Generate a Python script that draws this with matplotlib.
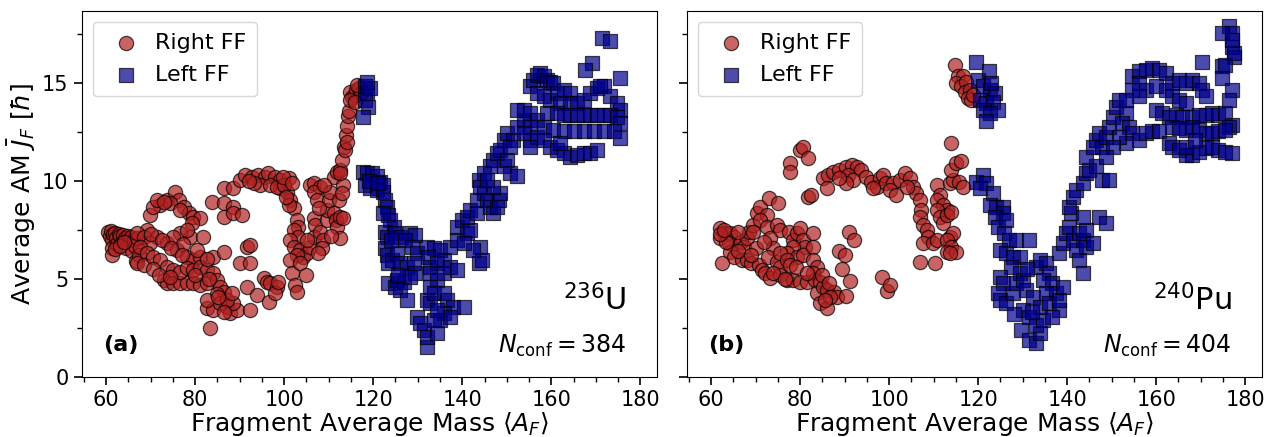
"""Average angular momentum of the fission fragments versus fragment mass."""
import matplotlib.pyplot as plt
import numpy as np
from matplotlib.ticker import MultipleLocator

# (A_F, J_F) pairs
u236_right = [
    (60.5, 7.4), (60.8, 7.2), (61.0, 7.45), (61.3, 7.0), (61.5, 7.3), (61.2, 6.6), (61.4, 6.2),
    (62.0, 7.35), (62.3, 7.1), (62.5, 6.8), (62.8, 7.3), (63.2, 7.2), (63.5, 6.9), (63.8, 7.25),
    (64.2, 7.1), (64.5, 6.6), (64.8, 7.2), (65.2, 7.0), (65.5, 7.15), (65.8, 6.4), (66.2, 7.0),
    (66.5, 6.7), (67.0, 7.1), (66.8, 5.9), (67.3, 6.2), (62.0, 6.5), (63.0, 6.7), (64.0, 6.9),
    (69.9, 8.27), (72.1, 8.78), (73.6, 9.03), (75.5, 9.46), (76.3, 9.03), (77.4, 8.69), (78.5, 8.35),
    (79.6, 8.18), (81.1, 8.1), (79.3, 7.84), (74.4, 8.86), (76.6, 8.52), (70.6, 8.69), (71.4, 9.03),
    (72.9, 8.95), (69.1, 7.5), (71.4, 7.16), (73.6, 6.82), (75.9, 6.48), (78.1, 6.13), (79.6, 5.96),
    (81.1, 6.13), (80.4, 6.48), (78.9, 7.16), (76.6, 7.33), (75.1, 7.16), (78.1, 7.5), (81.8, 7.16),
    (66.9, 7.33), (68.4, 7.16), (69.9, 6.82), (67.6, 6.65), (69.1, 6.3), (66.9, 5.79), (68.4, 5.71),
    (70.6, 6.13), (72.1, 5.96), (73.6, 5.62), (75.1, 5.45), (72.9, 4.94), (73.6, 4.77), (75.1, 4.77),
    (76.6, 4.77), (78.1, 4.77), (79.6, 4.77), (81.1, 4.69), (82.6, 4.77), (76.6, 5.37), (78.1, 5.54),
    (79.6, 5.45), (81.1, 5.62), (82.6, 5.45), (84.1, 5.28), (84.9, 4.94), (85.6, 4.6), (86.4, 4.35),
    (84.1, 6.13), (82.6, 6.0), (70.5, 5.5), (71.8, 5.2), (74.3, 5.1), (77.3, 6.8),
    (70.0, 7.3), (72.5, 7.0), (74.5, 6.6), (77.0, 6.2), (80.0, 5.2), (83.0, 5.0), (85.0, 4.2),
    (82.6, 3.49), (84.1, 3.41), (85.6, 3.75), (87.1, 3.58), (87.9, 3.24), (89.4, 3.41), (88.6, 3.75),
    (87.1, 3.92), (92.4, 3.41), (83.4, 2.47), (82.6, 3.92), (85.2, 4.09), (88.2, 4.26), (86.5, 3.3),
    (83.7, 8.95), (86.4, 9.63), (86.4, 8.86), (88.6, 8.69), (86.4, 8.18), (88.6, 8.35), (90.5, 8.27),
    (86.4, 6.39), (90.1, 5.79), (92.4, 5.79), (91.6, 6.65), (92.4, 6.73), (91.6, 4.6), (93.9, 4.18),
    (96.5, 3.83), (95.4, 5.03), (96.1, 4.86), (96.9, 4.77), (98.4, 4.6), (98.0, 4.26), (98.7, 4.86),
    (88.6, 9.63), (90.1, 10.05), (91.2, 10.31), (92.7, 10.22), (94.2, 10.31), (95.7, 10.22),
    (96.4, 10.39), (97.9, 10.22), (99.1, 10.05), (101.0, 10.14), (99.1, 9.63), (100.6, 9.46),
    (101.3, 9.03), (102.1, 8.61), (101.0, 8.78), (102.8, 8.01), (103.2, 7.67), (102.1, 7.5),
    (103.2, 7.16), (101.3, 6.99), (102.1, 6.65), (103.6, 6.48), (104.3, 6.13), (105.1, 6.3),
    (102.8, 6.22), (101.3, 5.96), (101.7, 5.28), (102.5, 4.69), (102.8, 4.35), (103.6, 5.79),
    (105.8, 6.65), (94.6, 9.8), (93.1, 9.88), (96.9, 9.8), (98.4, 9.71), (100.0, 9.8), (92.0, 10.0),
    (99.8, 10.2), (100.3, 9.2), (101.8, 9.9),
    (105.8, 9.8), (106.6, 9.88), (108.1, 9.71), (106.6, 9.46), (107.3, 9.03), (106.6, 8.1),
    (107.0, 7.75), (106.6, 7.16), (108.1, 7.41), (108.8, 6.99), (108.4, 6.56), (109.6, 8.01),
    (109.6, 8.52), (110.0, 9.03), (110.3, 9.46), (111.1, 10.22), (111.8, 10.48), (112.6, 10.56),
    (111.1, 8.35), (111.6, 8.01), (111.9, 7.67), (112.6, 8.18), (113.3, 8.1), (112.6, 7.07),
    (112.3, 9.03), (113.3, 9.8), (112.9, 9.37), (112.9, 11.08), (113.4, 11.76), (113.9, 12.36),
    (114.1, 12.8), (114.4, 13.3), (114.6, 13.6), (114.8, 14.57), (115.3, 14.3), (115.8, 14.4),
    (116.2, 14.65), (116.7, 14.74), (117.2, 14.5), (114.8, 14.15), (115.8, 14.06), (116.3, 14.9),
    (113.6, 11.6), (114.0, 12.0), (112.5, 10.4), (107.8, 8.6), (109.0, 9.8), (110.6, 7.2),
    (105.2, 7.0), (107.5, 6.3), (104.8, 5.2),
]
u236_left = [
    (118.2, 14.83), (118.6, 14.49), (118.2, 14.15), (118.9, 13.8), (117.8, 13.29), (119.2, 14.74),
    (118.6, 15.08),
    (117.8, 10.48), (118.6, 10.4), (119.7, 10.4), (120.8, 10.23), (121.6, 9.97), (122.3, 9.8),
    (118.2, 9.8), (119.3, 9.63), (120.8, 9.54), (122.3, 9.46), (122.7, 9.03), (123.1, 8.69),
    (123.4, 8.27), (122.3, 8.35), (123.8, 8.01), (124.6, 7.67), (122.7, 7.41), (123.1, 7.16),
    (124.9, 7.33), (126.1, 7.16), (128.3, 7.33), (129.4, 7.25), (127.2, 6.99), (128.7, 6.65),
    (129.8, 6.3), (122.7, 6.56), (123.1, 6.22), (123.4, 5.79), (124.2, 5.96), (125.3, 6.3),
    (126.1, 5.79), (127.6, 5.62), (129.1, 5.79), (129.4, 5.28), (123.4, 4.77), (124.9, 4.6),
    (126.1, 4.43), (127.6, 3.92), (125.3, 4.94), (126.8, 4.86), (128.3, 5.11),
    (119.0, 10.0), (121.0, 9.9), (124.0, 7.0), (125.5, 5.2),
    (132.1, 6.65), (133.6, 6.56), (135.1, 6.48), (132.4, 6.13), (132.8, 5.62), (134.3, 5.79),
    (135.8, 5.96), (132.8, 5.28), (134.3, 4.94), (135.8, 5.28), (137.3, 5.62), (138.8, 5.45),
    (132.8, 4.6), (132.1, 3.92), (132.8, 3.75), (133.6, 4.26), (135.8, 4.26), (136.5, 3.92),
    (138.0, 3.58), (140.3, 3.58), (129.8, 3.07), (130.6, 2.73), (131.3, 2.39), (132.1, 1.53),
    (132.1, 2.05), (134.3, 2.22), (135.1, 2.9), (135.8, 3.24), (133.6, 2.9), (137.3, 3.07),
    (134.3, 3.41),
    (137.3, 6.65), (138.8, 6.99), (138.8, 7.67), (139.9, 8.01), (141.0, 7.33), (141.8, 7.5),
    (141.0, 8.18), (141.8, 8.52), (143.3, 8.35), (143.3, 9.03), (144.0, 6.65), (143.7, 5.79),
    (144.4, 5.96), (142.5, 6.48), (140.3, 6.82),
    (143.7, 10.06), (144.8, 10.4), (144.0, 9.71), (144.8, 9.37), (145.5, 9.03), (146.3, 8.69),
    (147.0, 8.35), (147.8, 8.69), (148.2, 9.03), (148.5, 9.37), (147.0, 9.71), (145.5, 10.06),
    (146.3, 10.74), (147.0, 11.08), (147.8, 11.42), (148.5, 11.59), (149.3, 10.74), (150.0, 11.08),
    (150.8, 10.4), (152.3, 10.23), (149.3, 12.1), (150.0, 12.44), (151.5, 12.1), (150.8, 11.76),
    (152.3, 12.78), (153.8, 13.12), (152.3, 13.63), (153.8, 13.63), (155.3, 13.46), (156.8, 13.12),
    (155.3, 12.78), (153.8, 12.44), (155.3, 12.1), (156.8, 12.27), (155.3, 11.76),
    (155.3, 14.83), (156.0, 15.17), (156.8, 15.42), (157.5, 15.51), (158.3, 15.34), (159.0, 15.17),
    (159.8, 15.08), (160.5, 14.99), (156.8, 14.49), (158.3, 14.32), (159.8, 14.15), (161.3, 14.49),
    (162.8, 14.66), (164.3, 14.49), (162.0, 13.97), (164.3, 13.97), (165.8, 13.97), (167.3, 14.15),
    (168.8, 14.49), (170.3, 14.74), (171.8, 14.83), (173.3, 14.32), (174.8, 13.97), (175.5, 13.63),
    (159.0, 13.46), (161.3, 13.46), (162.8, 13.38), (164.3, 13.38), (165.8, 13.38), (167.3, 13.38),
    (168.8, 13.38), (170.3, 13.38), (171.8, 13.38), (173.3, 13.38), (174.8, 13.29), (175.5, 12.95),
    (158.3, 12.78), (160.5, 12.61), (162.8, 12.53), (165.0, 12.53), (167.3, 12.53), (169.5, 12.53),
    (171.8, 12.53), (174.0, 12.53), (175.5, 12.19),
    (158.3, 12.1), (159.8, 11.76), (161.3, 11.59), (162.8, 11.42), (164.3, 11.25), (165.8, 11.33),
    (167.3, 11.42), (168.8, 11.42), (170.3, 11.59), (162.0, 11.93),
    (171.4, 17.3), (173.3, 17.13), (169.1, 16.02), (167.6, 15.68), (175.5, 15.25), (171.0, 14.83),
]
pu240_right = [
    (62.1, 7.58), (62.8, 7.33), (62.1, 7.07), (64.3, 7.33), (65.1, 7.16), (64.0, 6.82), (64.3, 6.39),
    (65.1, 6.13), (62.5, 5.79), (66.6, 6.9), (67.3, 6.65), (68.0, 7.07), (68.4, 7.41), (69.5, 7.75),
    (67.0, 5.96), (68.0, 5.96), (68.9, 5.79), (70.7, 5.71), (71.5, 5.45), (72.2, 5.28), (73.3, 5.03),
    (70.3, 8.35), (71.0, 8.69), (72.9, 9.12), (75.0, 8.86), (72.5, 8.27), (71.0, 8.01), (69.5, 7.41),
    (72.5, 7.67), (74.7, 7.75), (75.5, 7.5), (73.2, 7.07), (73.9, 6.56), (72.8, 6.13), (74.7, 5.88),
    (75.5, 5.62), (75.5, 5.2), (77.0, 4.94), (78.5, 4.94), (80.0, 4.86), (81.5, 4.86), (77.6, 7.41),
    (78.5, 6.99), (79.3, 7.33), (80.0, 7.58), (80.7, 6.99), (81.1, 6.65), (78.5, 6.65), (77.0, 6.3),
    (79.3, 6.13), (80.7, 6.22), (83.0, 7.33), (83.0, 6.65), (83.0, 5.96), (83.7, 5.62), (83.0, 5.28),
    (83.4, 4.94), (84.5, 4.86), (83.7, 4.26), (84.5, 3.75), (86.0, 3.49), (85.2, 4.6), (86.0, 4.43),
    (87.5, 4.35), (88.2, 4.09), (86.7, 4.09), (85.6, 3.92), (75.5, 6.3), (77.0, 5.96), (77.8, 5.71),
    (63.3, 6.9), (66.0, 7.4), (70.0, 6.6), (71.8, 6.9), (61.9, 7.3), (63.0, 7.5), (66.0, 6.4),
    (69.0, 6.2), (74.0, 5.3), (76.5, 5.0), (79.0, 5.6), (81.5, 5.3),
    (77.8, 10.91), (77.8, 10.48), (80.0, 11.59), (80.7, 11.76), (81.8, 11.16), (81.8, 9.2),
    (82.5, 9.29), (85.2, 10.14), (86.3, 10.31), (87.4, 10.48), (88.8, 10.56), (90.4, 10.73),
    (91.6, 10.82), (92.7, 10.73), (93.7, 10.56), (90.8, 10.31), (91.9, 10.06), (90.4, 9.88),
    (86.0, 9.63), (88.8, 10.14), (94.9, 10.22), (96.0, 9.97), (97.2, 9.71), (97.9, 10.14),
    (98.7, 10.31), (99.4, 9.88), (100.9, 9.88), (100.2, 9.54), (101.6, 9.29), (102.4, 10.05),
    (103.5, 10.39), (104.6, 10.14), (105.4, 9.71), (106.1, 9.37), (106.9, 9.03), (107.2, 8.52),
    (106.9, 8.18), (107.6, 7.75), (108.4, 7.5), (108.8, 7.16), (107.6, 6.82), (109.9, 6.82),
    (110.3, 5.79), (106.9, 5.88), (110.7, 6.99), (103.9, 9.71), (96.4, 9.63),
    (84.8, 5.2), (86.4, 4.8), (89.4, 5.5), (90.4, 4.1), (91.2, 4.9), (88.7, 6.4), (90.0, 6.2),
    (91.0, 7.4), (92.0, 7.0), (98.3, 5.1), (99.5, 4.4), (100.2, 4.7),
    (110.7, 9.8), (111.4, 9.29), (110.7, 9.03), (112.2, 8.78), (112.9, 8.52), (110.7, 8.52),
    (111.4, 8.18), (112.2, 7.84), (112.9, 8.27), (114.0, 8.44), (113.6, 9.88), (114.3, 10.05),
    (115.8, 9.97), (116.5, 9.71), (114.0, 10.56), (115.1, 10.91), (116.2, 11.0), (114.0, 11.93),
    (113.6, 7.16), (114.3, 7.33), (112.9, 6.99), (114.0, 6.65), (112.9, 6.39), (115.1, 6.39),
    (113.6, 6.3),
    (114.7, 15.93), (115.5, 15.34), (116.6, 15.34), (115.1, 15.0), (116.2, 14.83), (117.3, 15.08),
    (117.0, 14.57), (118.1, 14.66), (117.7, 14.23), (118.5, 14.15), (118.8, 14.4),
]
pu240_left = [
    (119.6, 16.1), (120.0, 15.17), (122.5, 15.6), (121.1, 14.83), (122.6, 14.66), (123.7, 14.49),
    (120.3, 14.15), (121.8, 13.97), (123.3, 14.06), (124.4, 13.63), (121.1, 13.63), (122.6, 13.46),
    (121.8, 13.04), (122.9, 15.0),
    (119.6, 9.97), (121.1, 10.31), (121.8, 9.88), (120.3, 9.63), (123.3, 9.37), (122.6, 8.78),
    (124.0, 8.69), (125.5, 8.69), (125.5, 8.35), (123.7, 8.18), (124.4, 7.67), (126.3, 8.01),
    (125.9, 7.33), (127.0, 6.99), (128.5, 6.99), (131.5, 6.99), (124.8, 6.48), (126.3, 6.3),
    (127.8, 6.13), (129.3, 6.13), (127.4, 5.62), (124.8, 5.11), (125.5, 4.77), (124.4, 4.26),
    (124.8, 3.92), (126.3, 3.75), (127.8, 4.26), (128.5, 4.77), (129.3, 5.28), (130.0, 4.94),
    (130.8, 4.43), (130.0, 3.41), (131.5, 3.07), (129.6, 2.39), (131.5, 1.88), (133.0, 1.7),
    (133.8, 2.22), (133.0, 2.64), (134.5, 2.9), (132.3, 4.09), (133.0, 5.62), (133.8, 5.96),
    (135.2, 5.79), (136.0, 5.28), (134.5, 4.94), (136.7, 4.77), (135.2, 4.26), (137.5, 4.26),
    (133.8, 3.58), (136.0, 3.75), (138.2, 3.41), (136.7, 3.07), (138.2, 3.92), (139.0, 4.6),
    (131.0, 5.5), (132.0, 3.3), (128.0, 3.2),
    (138.2, 6.3), (139.0, 6.82), (139.7, 7.33), (140.5, 7.67), (140.8, 8.35), (140.5, 8.69),
    (141.2, 6.99), (142.0, 6.48), (142.7, 5.96), (143.5, 5.28), (142.7, 7.33), (143.5, 6.99),
    (144.2, 7.5), (144.2, 6.65), (145.7, 6.82), (147.2, 8.18), (148.7, 7.84), (141.2, 9.2),
    (142.0, 9.54), (143.5, 9.88), (144.2, 10.4), (144.9, 10.57), (146.4, 10.74), (147.9, 10.06),
    (149.4, 10.06), (144.2, 11.25), (145.7, 11.76), (146.4, 12.1), (147.2, 12.44), (147.9, 11.76),
    (148.7, 12.27), (149.4, 12.78), (150.2, 13.29), (150.9, 13.8), (151.7, 14.15), (153.2, 13.46),
    (152.4, 12.95), (153.9, 12.78), (154.6, 12.44), (156.1, 12.1), (157.6, 12.44), (153.2, 11.93),
    (151.7, 12.27), (150.2, 11.76), (148.7, 11.25), (143.5, 8.18),
    (154.6, 15.34), (156.1, 15.6), (157.6, 15.68), (159.1, 15.77), (160.6, 15.68), (162.1, 15.51),
    (156.1, 15.0), (157.6, 14.66), (159.9, 14.83), (162.1, 14.66), (163.6, 15.0), (165.1, 15.17),
    (166.6, 15.0), (168.1, 15.17), (169.6, 15.0), (170.3, 14.66), (171.1, 14.32), (163.6, 14.32),
    (165.1, 14.15), (166.6, 13.97), (156.1, 14.32), (154.6, 14.66), (153.2, 14.15),
    (159.9, 13.63), (161.4, 13.46), (162.9, 13.29), (164.4, 13.38), (165.8, 13.29), (168.1, 13.29),
    (169.6, 13.38), (171.1, 13.38), (172.6, 13.46), (174.0, 13.38), (175.5, 13.46), (177.0, 12.87),
    (176.3, 12.78),
    (159.1, 12.53), (160.6, 12.53), (163.6, 12.78), (165.1, 12.7), (166.6, 12.61), (168.1, 12.78),
    (169.6, 12.61), (171.1, 12.44), (172.6, 12.44), (174.0, 12.53), (175.5, 12.61),
    (162.9, 11.93), (163.6, 11.76), (165.1, 11.59), (166.6, 11.33), (168.1, 11.33), (169.6, 11.5),
    (171.1, 11.67), (172.6, 11.76), (174.0, 11.59), (175.5, 11.5), (177.0, 11.42), (166.6, 11.76),
    (168.8, 12.1),
    (176.3, 17.9), (177.0, 17.55), (174.8, 17.55), (177.0, 16.87), (177.4, 16.36), (174.8, 15.85),
    (175.5, 15.94), (170.3, 16.1), (174.8, 15.25), (177.0, 14.66), (176.3, 14.15), (177.4, 16.53),
    (177.0, 17.2),
]

panels = [
    ("(a)", r"$^{236}$U", 384, u236_right, u236_left),
    ("(b)", r"$^{240}$Pu", 404, pu240_right, pu240_left),
]

RED = "firebrick"
BLUE = "darkblue"

plt.rcParams["font.family"] = "DejaVu Sans"
plt.rcParams["mathtext.fontset"] = "dejavusans"

fig, axes = plt.subplots(1, 2, figsize=(12.73, 4.37), dpi=100, sharey=True)
fig.subplots_adjust(left=0.0642, right=0.9911, bottom=0.138, top=0.9755, wspace=0.052)

for ax, (tag, nucleus, nconf, right, left) in zip(axes, panels):
    right = np.array(right)
    left = np.array(left)
    ax.scatter(right[:, 0], right[:, 1], s=105, marker="o", color=RED, alpha=0.7,
               edgecolors="black", linewidths=0.9, label="Right FF")
    ax.scatter(left[:, 0], left[:, 1], s=105, marker="s", color=BLUE, alpha=0.7,
               edgecolors="black", linewidths=0.9, label="Left FF")

    ax.set_xlim(54.5, 183.7)
    ax.set_ylim(0, 18.7)
    ax.xaxis.set_major_locator(MultipleLocator(20))
    ax.xaxis.set_minor_locator(MultipleLocator(5))
    ax.yaxis.set_major_locator(MultipleLocator(5))
    ax.yaxis.set_minor_locator(MultipleLocator(2.5))
    ax.tick_params(which="major", direction="out", length=6, width=1.2, labelsize=15)
    ax.tick_params(which="minor", direction="out", length=3.5, width=1.0)
    ax.set_xlabel(r"Fragment Average Mass $\langle A_F\rangle$", fontsize=18, labelpad=0)

    ax.text(0.037, 0.07, tag, transform=ax.transAxes, fontsize=16, fontweight="bold")
    ax.text(0.948, 0.18, nucleus, transform=ax.transAxes, fontsize=22, ha="right")
    ax.text(0.948, 0.065, r"$N_{\rm conf} = %d$" % nconf, transform=ax.transAxes,
            fontsize=17, ha="right")
    ax.legend(loc="upper left", fontsize=16, handletextpad=0.3, borderpad=0.5,
              markerscale=1.0, labelspacing=0.55)

axes[0].set_ylabel(r"Average AM $\bar{J}_F\ [\hbar]$", fontsize=18, labelpad=3)

fig.savefig("out.png", dpi=100)
